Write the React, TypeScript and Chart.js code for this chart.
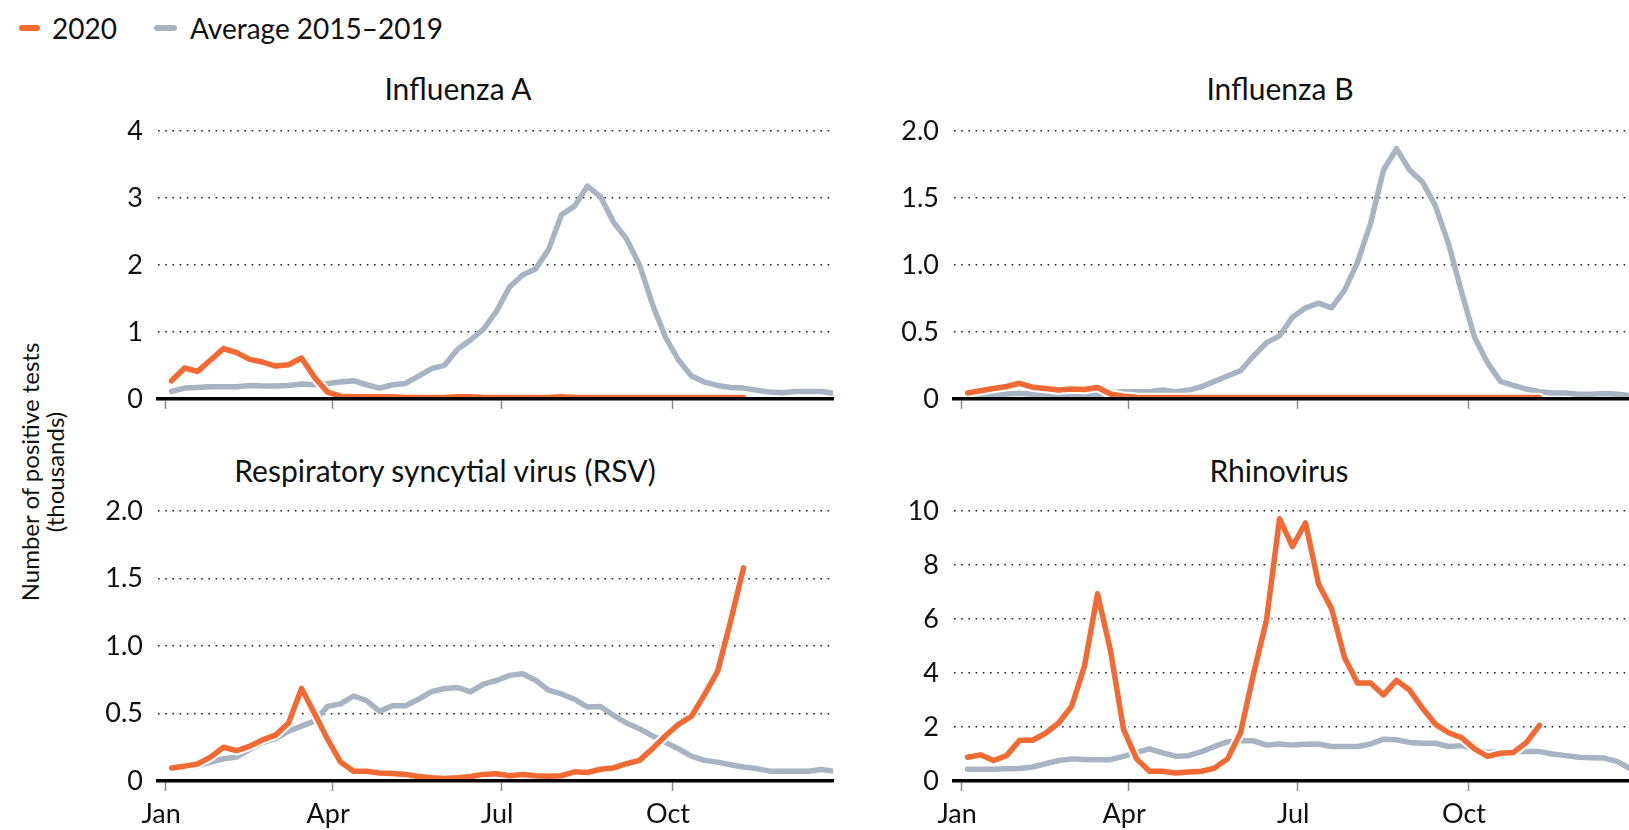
import React, { useEffect, useRef } from "react";
import { Chart, registerables } from "chart.js";

Chart.register(...registerables);

// ---------- categories / ticks ----------
const WEEKS = Array.from({ length: 52 }, (_, i) => i + 1); // week numbers
const MONTH_TICK_DAYS = [0, 90, 181, 273];
const MONTH_LABELS = ["Jan", "Apr", "Jul", "Oct"];

const FLU_A_TICKS = [0, 1, 2, 3, 4];
const FLU_A_TICK_LABELS = ["0", "1", "2", "3", "4"];
const HALF_TICKS = [0, 0.5, 1, 1.5, 2];
const HALF_TICK_LABELS = ["0", "0.5", "1.0", "1.5", "2.0"];
const RHINO_TICKS = [0, 2, 4, 6, 8, 10];
const RHINO_TICK_LABELS = ["0", "2", "4", "6", "8", "10"];

const SERIES_2020 = "2020";
const SERIES_AVG = "Average 2015–2019";

// ---------- values (thousands of positive tests, weekly) ----------
const FLU_A_2020 = [
  0.27, 0.46, 0.41, 0.58, 0.75, 0.69, 0.59, 0.55, 0.49, 0.51,
  0.61, 0.32, 0.1, 0.04, 0.03, 0.03, 0.03, 0.03, 0.02, 0.02,
  0.02, 0.02, 0.03, 0.03, 0.02, 0.02, 0.02, 0.02, 0.02, 0.02,
  0.03, 0.02, 0.02, 0.02, 0.02, 0.02, 0.02, 0.02, 0.02, 0.02,
  0.02, 0.02, 0.02, 0.02, 0.02,
];
const FLU_A_AVG = [
  0.11, 0.16, 0.17, 0.18, 0.18, 0.18, 0.2, 0.19, 0.19, 0.2,
  0.22, 0.21, 0.23, 0.25, 0.27, 0.21, 0.16, 0.21, 0.23, 0.34,
  0.45, 0.5, 0.74, 0.88, 1.04, 1.31, 1.67, 1.85, 1.94, 2.23,
  2.75, 2.88, 3.18, 3.02, 2.64, 2.39, 2.0, 1.41, 0.92, 0.58,
  0.34, 0.25, 0.2, 0.17, 0.16, 0.13, 0.1, 0.09, 0.11, 0.11,
  0.11, 0.08,
];
const FLU_B_2020 = [
  0.044, 0.06, 0.077, 0.092, 0.116, 0.087, 0.077, 0.065, 0.073, 0.07,
  0.085, 0.036, 0.02, 0.012, 0.01, 0.01, 0.01, 0.01, 0.01, 0.01,
  0.01, 0.01, 0.01, 0.01, 0.01, 0.01, 0.01, 0.01, 0.01, 0.01,
  0.01, 0.01, 0.01, 0.01, 0.01, 0.01, 0.01, 0.01, 0.01, 0.01,
  0.01, 0.01, 0.01, 0.01, 0.01,
];
const FLU_B_AVG = [
  0.01, 0.02, 0.03, 0.036, 0.041, 0.034, 0.03, 0.02, 0.024, 0.024,
  0.03, 0.048, 0.053, 0.053, 0.053, 0.065, 0.053, 0.065, 0.09, 0.13,
  0.17, 0.21, 0.32, 0.42, 0.47, 0.61, 0.68, 0.715, 0.68, 0.81,
  1.02, 1.31, 1.71, 1.87, 1.71, 1.62, 1.44, 1.16, 0.8, 0.46,
  0.27, 0.13, 0.1, 0.073, 0.053, 0.044, 0.044, 0.034, 0.034, 0.04,
  0.034, 0.024,
];
const RSV_2020 = [
  0.097, 0.11, 0.126, 0.177, 0.25, 0.225, 0.257, 0.305, 0.34, 0.43,
  0.686, 0.5, 0.31, 0.14, 0.073, 0.073, 0.06, 0.056, 0.049, 0.034,
  0.024, 0.019, 0.024, 0.034, 0.049, 0.054, 0.039, 0.049, 0.039, 0.036,
  0.039, 0.068, 0.063, 0.087, 0.097, 0.128, 0.153, 0.24, 0.335, 0.42,
  0.48, 0.64, 0.81, 1.18, 1.58,
];
const RSV_AVG = [
  0.09, 0.1, 0.11, 0.14, 0.165, 0.177, 0.233, 0.286, 0.315, 0.37,
  0.407, 0.444, 0.553, 0.572, 0.63, 0.596, 0.516, 0.558, 0.558, 0.606,
  0.662, 0.686, 0.693, 0.66, 0.718, 0.745, 0.783, 0.795, 0.747, 0.674,
  0.645, 0.606, 0.548, 0.553, 0.487, 0.43, 0.388, 0.335, 0.286, 0.238,
  0.184, 0.153, 0.14, 0.121, 0.104, 0.092, 0.073, 0.073, 0.073, 0.073,
  0.085, 0.073,
];
const RHINO_2020 = [
  0.88, 0.97, 0.76, 0.94, 1.51, 1.51, 1.77, 2.15, 2.76, 4.27,
  6.94, 4.82, 1.91, 0.82, 0.36, 0.36, 0.3, 0.33, 0.36, 0.48,
  0.82, 1.79, 3.97, 5.97, 9.72, 8.69, 9.57, 7.3, 6.39, 4.58,
  3.63, 3.63, 3.19, 3.73, 3.37, 2.7, 2.1, 1.79, 1.61, 1.19,
  0.91, 1.03, 1.06, 1.43, 2.06,
];
const RHINO_AVG = [
  0.44, 0.44, 0.44, 0.45, 0.46, 0.52, 0.64, 0.76, 0.82, 0.8,
  0.79, 0.79, 0.91, 1.06, 1.19, 1.04, 0.92, 0.94, 1.09, 1.28,
  1.45, 1.49, 1.49, 1.33, 1.37, 1.33, 1.36, 1.37, 1.28, 1.28,
  1.28, 1.37, 1.55, 1.53, 1.43, 1.4, 1.4, 1.28, 1.31, 1.19,
  1.06, 1.09, 1.09, 1.09, 1.09, 1.0, 0.94, 0.88, 0.86, 0.85,
  0.72, 0.45,
];

// ---------- style ----------
const ORANGE = "#F26A33";
const GREY = "#A9B4C2";
const FONT_TEXT = 'Lato, "Open Sans", sans-serif';
const FONT_NUM = 'Lato, "Open Sans", sans-serif';

// mid-week day-of-year for a week number
const weekDay = (w: number) => (w - 1) * 7 + 3.5;
const toPoints = (vals: number[]) => vals.map((v, i) => ({ x: weekDay(WEEKS[i]), y: v }));

type PanelProps = {
  left: number;
  top: number;
  width: number;
  height: number;
  yAxisWidth: number;
  xAxisHeight: number;
  padTop: number;
  padRight: number;
  yMax: number;
  yTicks: number[];
  yTickLabels: string[];
  s2020: number[];
  sAvg: number[];
  showXLabels: boolean;
};

function Panel(p: PanelProps) {
  const ref = useRef<HTMLCanvasElement | null>(null);
  useEffect(() => {
    if (!ref.current) return;
    const lineBase = {
      pointRadius: 0,
      borderCapStyle: "round",
      borderJoinStyle: "round",
    };
    const chart = new Chart(ref.current, {
      type: "line",
      data: {
        datasets: [
          { ...lineBase, label: SERIES_2020, data: toPoints(p.s2020), borderColor: ORANGE, borderWidth: 5.5, order: 0 },
          { ...lineBase, label: "halo", data: toPoints(p.s2020), borderColor: "#ffffff", borderWidth: 9.5, order: 1 },
          { ...lineBase, label: SERIES_AVG, data: toPoints(p.sAvg), borderColor: GREY, borderWidth: 5.5, order: 2 },
        ],
      },
      options: {
        animation: false,
        responsive: false,
        devicePixelRatio: 1,
        events: [],
        layout: { padding: { top: p.padTop, right: p.padRight, left: 0, bottom: 0 } },
        plugins: { legend: { display: false }, tooltip: { enabled: false }, title: { display: false } },
        scales: {
          x: {
            type: "linear",
            min: -3.8,
            max: 359.7,
            afterFit: (s: any) => {
              s.height = p.xAxisHeight;
            },
            afterBuildTicks: (s: any) => {
              s.ticks = MONTH_TICK_DAYS.map((v) => ({ value: v }));
            },
            ticks: {
              autoSkip: false,
              maxRotation: 0,
              padding: 7,
              labelOffset: -4,
              color: "#111",
              font: { family: FONT_NUM, size: 27 },
              callback: (_v: any, i: number) => (p.showXLabels ? MONTH_LABELS[i] : ""),
            },
            grid: {
              drawOnChartArea: false,
              drawTicks: true,
              tickLength: 10,
              tickColor: "#8a8a8a",
              tickWidth: 1.5,
              color: "transparent",
            },
            border: { display: true, color: "#000", width: 3.5, z: 1 },
          },
          y: {
            min: 0,
            max: p.yMax,
            afterFit: (s: any) => {
              s.width = p.yAxisWidth;
            },
            afterBuildTicks: (s: any) => {
              s.ticks = p.yTicks.map((v) => ({ value: v }));
            },
            ticks: {
              padding: 15,
              color: "#111",
              font: { family: FONT_NUM, size: 27 },
              callback: (_v: any, i: number) => p.yTickLabels[i],
            },
            grid: { drawTicks: false, color: "#222", lineWidth: 1.6 },
            border: { display: false, dash: [1.6, 5.6] },
          },
        },
      },
    } as any);
    return () => chart.destroy();
  }, []);
  return (
    <canvas
      ref={ref}
      width={p.width}
      height={p.height}
      style={{ position: "absolute", left: p.left, top: p.top, width: p.width, height: p.height }}
    />
  );
}

const titleStyle = (cx: number, cy: number): React.CSSProperties => ({
  position: "absolute",
  left: cx - 300,
  top: cy - 18,
  width: 600,
  height: 36,
  lineHeight: "36px",
  textAlign: "center",
  fontFamily: FONT_TEXT,
  fontSize: 30,
  color: "#111",
  whiteSpace: "nowrap",
});

const legendText: React.CSSProperties = {
  position: "absolute",
  top: 11,
  lineHeight: "34px",
  fontSize: 28,
  color: "#111",
  whiteSpace: "nowrap",
};

export default function App() {
  return (
    <div
      style={{
        position: "absolute",
        left: 0,
        top: 0,
        width: 1629,
        height: 830,
        background: "#fff",
        overflow: "hidden",
        fontFamily: FONT_TEXT,
      }}
    >
      {/* legend */}
      <div style={{ position: "absolute", left: 19, top: 25, width: 21, height: 6, borderRadius: 3, background: ORANGE }} />
      <div style={{ ...legendText, left: 52 }}>{SERIES_2020}</div>
      <div style={{ position: "absolute", left: 154, top: 25, width: 23, height: 6, borderRadius: 3, background: GREY }} />
      <div style={{ ...legendText, left: 190 }}>{SERIES_AVG}</div>

      {/* y axis title */}
      <div
        style={{
          position: "absolute",
          left: 42 - 170,
          top: 472 - 25,
          width: 340,
          height: 50,
          transform: "rotate(-90deg)",
          textAlign: "center",
          fontSize: 24,
          lineHeight: "25px",
          color: "#111",
          whiteSpace: "nowrap",
        }}
      >
        Number of positive tests
        <br />
        (thousands)
      </div>

      <div style={titleStyle(458, 88)}>Influenza A</div>
      <div style={titleStyle(1280, 88)}>Influenza B</div>
      <div style={titleStyle(445, 470)}>Respiratory syncytial virus (RSV)</div>
      <div style={titleStyle(1279, 470)}>Rhinovirus</div>

      <Panel
        left={0} top={100} width={845} height={330}
        yAxisWidth={158} xAxisHeight={30} padTop={25} padRight={12}
        yMax={4} yTicks={FLU_A_TICKS} yTickLabels={FLU_A_TICK_LABELS}
        s2020={FLU_A_2020} sAvg={FLU_A_AVG} showXLabels={false}
      />
      <Panel
        left={800} top={100} width={829} height={330}
        yAxisWidth={154} xAxisHeight={30} padTop={25} padRight={0}
        yMax={2} yTicks={HALF_TICKS} yTickLabels={HALF_TICK_LABELS}
        s2020={FLU_B_2020} sAvg={FLU_B_AVG} showXLabels={false}
      />
      <Panel
        left={0} top={480} width={845} height={350}
        yAxisWidth={158} xAxisHeight={49} padTop={25.7} padRight={12}
        yMax={2} yTicks={HALF_TICKS} yTickLabels={HALF_TICK_LABELS}
        s2020={RSV_2020} sAvg={RSV_AVG} showXLabels={true}
      />
      <Panel
        left={800} top={480} width={829} height={350}
        yAxisWidth={154} xAxisHeight={49} padTop={25.7} padRight={0}
        yMax={10} yTicks={RHINO_TICKS} yTickLabels={RHINO_TICK_LABELS}
        s2020={RHINO_2020} sAvg={RHINO_AVG} showXLabels={true}
      />
    </div>
  );
}
